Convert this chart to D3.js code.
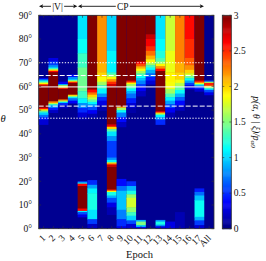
<!DOCTYPE html>
<html><head><meta charset="utf-8">
<script src="https://cdn.jsdelivr.net/npm/d3@7"></script>
<style>
body{margin:0;background:#fff;}
svg{display:block;}
text{font-family:"Liberation Serif","DejaVu Serif",serif;fill:#111;}
</style>
</head><body>
<svg id="c" width="266" height="261"></svg>
<script>
// ---------------- data ----------------
const epochs = ["1","2","3","4","5","6","7","8","9","10","11","12","13","14","15","16","17","All"];
const thetaTicks = [0,10,20,30,40,50,60,70,80,90];
const colorTicks = [0,0.5,1,1.5,2,2.5,3];
const colorTickLabels = ["0","0.5","1","1.5","2","2.5","3"];
const backgroundValue = 0.05;
const guideThetas = [70, 64.6, 59.8, 51.7, 46.6];
const guideKinds = ["dotted","dashed","solid","dashed","dotted"];
const groupLabels = ["|V|","CP"];
const groupFirst = ["1","5"];
const groupLast = ["4","17"];
// each profile: segments [thetaHigh, thetaLow, value] over the background value
const profiles = [
 [[63.5,63,0.4],[63,62.5,0.8],[62.5,62,1.1],[62,61.5,1.5],[61.5,61,1.9],[61,60.5,2.4],[60.5,60,2.8],[60,51,3],[51,50.5,2.6],[50.5,50,2.1],[50,49.5,1.7],[49.5,49,1.3],[49,48,1.0],[48,47,0.7],[47,46,0.45],[46,44,0.25]],
 [[72,70.5,0.3],[70.5,69,0.55],[69,68,0.8],[68,67.5,1.1],[67.5,67,1.6],[67,66.5,2.1],[66.5,66,2.6],[66,53.7,3],[53.7,53,2.2],[53,52.5,1.7],[52.5,52,1.2],[52,51,0.8],[51,50,0.45],[50,49,0.2]],
 [[62,61,0.35],[61,60.5,0.9],[60.5,59.5,1.7],[59.5,59,2.5],[59,54.5,3],[54.5,54,2.2],[54,53.5,1.6],[53.5,53,1.0],[53,52,0.5],[52,51,0.2]],
 [[65,64,0.4],[64,63,0.8],[63,62.5,1.1],[62.5,62,1.8],[62,61.5,2.5],[61.5,56.5,3],[56.5,56,2.0],[56,55.5,1.5],[55.5,55,1.1],[55,54,0.7],[54,53,0.35]],
 [[90,80,1.05],[80,74,1.15],[74,68,1.3],[68,58,1.45],[58,55,1.3],[55,53,1.1],[53,51,0.8],[51,49,0.5],[49,47,0.25],[47,46,0.12],
  [20,19.5,0.6],[19.5,19,1.1],[19,18,2.6],[18,8.5,3],[8.5,7.5,2.6],[7.5,7,1.1],[7,6,0.6],[6,5,0.3]],
 [[90,59,3],[59,58.5,2.8],[58.5,57.5,2.6],[57.5,56.5,2.3],[56.5,55.5,2.0],[55.5,54.5,1.7],[54.5,53.5,1.4],[53.5,52.5,1.1],[52.5,51.5,0.85],[51.5,50,0.6],[50,48.5,0.35],[48.5,47,0.15],
  [20.5,18.5,0.5],[18.5,17,0.85],[17,15,1.1],[15,8,1.2],[8,4,1.05],[4,2,0.55],[2,0,0.2]],
 [[90,70,2.2],[70,66,2.1],[66,64,2.0],[64,62,1.85],[62,60.5,1.6],[60.5,59,1.3],[59,57,1.1],[57,55.5,0.8],[55.5,54,0.5],[54,52,0.3],[52,50,0.15]],
 [[90,75,1.0],[75,66,1.1],[66,65,1.3],[65,64,1.6],[64,63,1.9],[63,62,2.2],[62,61,2.5],[61,60,2.75],[60,44,3],[44,43,2.7],[43,42,2.0],[42,41,1.4],[41,39,1.05],[39,37,0.8],[37,30,0.55],[30,29,0.8],[29,28,1.1],[28,27.5,1.8],[27.5,27,2.4],[27,26,2.8],[26,16.5,3],[16.5,16,2.5],[16,15.5,1.9],[15.5,14,1.2],[14,13,0.9],[13,11,0.6],[11,9,0.3],[9,6,0.15]],
 [[90,51.5,3],[51.5,51,2.2],[51,50,1.6],[50,49,1.15],[49,47,0.75],[47,45,0.4],[45,43,0.2],
  [21,18,0.4],[18,16,0.7],[16,8,0.95],[8,4,0.75],[4,1,0.5],[1,0,0.3]],
 [[90,62.5,3],[62.5,62,2.7],[62,61.5,2.3],[61.5,61,1.9],[61,60,1.6],[60,59,1.3],[59,58,1.1],[58,57,0.9],[57,55,0.7],[55,53,0.45],[53,51,0.25],[51,49,0.12],
  [20,18,0.5],[18,16,0.9],[16,14.5,1.2],[14.5,13,1.55],[13,9,1.75],[9,7,1.55],[7,5.5,1.3],[5.5,3.5,1.0],[3.5,2,0.6],[2,0,0.25]],
 [[90,70.5,3],[70.5,69.5,2.65],[69.5,68.5,2.4],[68.5,67.5,2.1],[67.5,66.5,1.85],[66.5,65.5,1.6],[65.5,64.5,1.35],[64.5,63.5,1.15],[63.5,62.5,0.95],[62.5,61,0.75],[61,60,0.55],[60,58,0.35],[58,56,0.2],
  [3.7,3,0.9],[3,1.5,1.5],[1.5,0.8,1.0],[0.8,0,0.4]],
 [[90,82,3],[82,80,2.8],[80,77,2.65],[77,75,2.5],[75,73,2.3],[73,71.5,2.1],[71.5,70,1.9],[70,69,1.6],[69,68,1.35],[68,67,1.15],[67,65.5,0.9],[65.5,64,0.7],[64,62.5,0.45],[62.5,61,0.25]],
 [[90,80,1.05],[80,75,1.12],[75,72,1.22],[72,70.5,1.35],[70.5,69.5,1.6],[69.5,68.5,1.9],[68.5,67.5,2.2],[67.5,66.5,2.6],[66.5,49.5,3],[49.5,49,2.6],[49,48.5,2.0],[48.5,48,1.5],[48,47,1.1],[47,46,0.8],[46,44,0.5],
  [3.7,3,0.8],[3,1.7,1.2],[1.7,1,0.8],[1,0,0.3]],
 [[90,75,1.72],[75,66,1.82],[66,62,1.9],[62,59,1.85],[59,57,1.6],[57,55.5,1.35],[55.5,54,1.1],[54,52.5,0.85],[52.5,51,0.6],[51,49,0.35],[49,47,0.15],
  [3,0,0.3]],
 [[90,70,2.25],[70,66,2.1],[66,63,2.0],[63,61.5,1.85],[61.5,60,1.65],[60,58.5,1.4],[58.5,57,1.15],[57,55.5,0.9],[55.5,54,0.65],[54,52,0.4],[52,50,0.2],
  [7,0,0.15]],
 [[90,80,2.6],[80,72,2.5],[72,69,2.35],[69,67,2.2],[67,65.5,2.0],[65.5,64.5,1.75],[64.5,63.5,1.45],[63.5,62.5,1.15],[62.5,61.5,0.85],[61.5,60.5,0.55],[60.5,59,0.3]],
 [[90,62.5,3],[62.5,62,2.7],[62,61.5,2.3],[61.5,61,1.8],[61,60.5,1.3],[60.5,60,0.9],[60,59,0.5],[59,58,0.25],
  [17,15.5,0.45],[15.5,14,0.7],[14,12,0.95],[12,5,1.15],[5,3.5,0.9],[3.5,1.5,0.55],[1.5,0,0.25]],
 [[62.5,62,0.6],[62,61.5,1.6],[61.5,60.5,2.55],[60.5,60,2.3],[60,59.5,1.8],[59.5,59,1.3],[59,58.5,1.0],[58.5,57.5,0.6],[57.5,56.5,0.3]]
];

// ---------------- layout ----------------
const L = 38.7, R = 214, T = 15.3, B = 228.7;
const CBL = 222.3, CBR = 231.3;
const svg = d3.select("#c");

const clamp = x => Math.max(0, Math.min(1, x));
const jet = t => d3.rgb(255*clamp(1.5-Math.abs(4*t-3)), 255*clamp(1.5-Math.abs(4*t-2)), 255*clamp(1.5-Math.abs(4*t-1))).toString();
const color = d3.scaleSequential(jet).domain([0,3]).clamp(true);

const x = d3.scaleBand().domain(epochs).range([L, R]).paddingInner(0).paddingOuter(0);
const y = d3.scaleLinear().domain([0, 90]).range([B, T]);

// heatmap columns (each column overlaps the next by 1px; later columns cover it)
const cols = svg.append("g").selectAll("g").data(epochs).join("g");
cols.each(function(d, i) {
  const g = d3.select(this);
  const w = x.bandwidth() + (i < epochs.length - 1 ? 1 : 0);
  g.append("rect")
    .attr("x", x(d)).attr("width", w)
    .attr("y", y(90)).attr("height", y(0) - y(90))
    .attr("fill", color(backgroundValue));
  g.selectAll("rect.seg").data(profiles[i]).join("rect")
    .attr("class", "seg")
    .attr("x", x(d)).attr("width", w)
    .attr("y", s => y(s[0]))
    .attr("height", s => Math.min(y(s[1]) - y(s[0]) + 0.5, B - y(s[0])))
    .attr("fill", s => color(s[2]));
});

// guide lines
const dash = {dotted: "1.3,1.6", dashed: "5,2", solid: null};
svg.append("g").selectAll("line").data(guideThetas).join("line")
  .attr("x1", L).attr("x2", R)
  .attr("y1", d => y(d)).attr("y2", d => y(d))
  .attr("stroke", "#fff").attr("stroke-width", 1)
  .attr("stroke-dasharray", (d, i) => dash[guideKinds[i]]);

// frame and ticks
svg.append("rect").attr("x", L).attr("y", T).attr("width", R - L).attr("height", B - T)
  .attr("fill", "none").attr("stroke", "#333").attr("stroke-width", 0.8);
const tk = svg.append("g").attr("stroke", "#333").attr("stroke-width", 0.6);
epochs.forEach(e => {
  const cx = x(e) + x.bandwidth() / 2;
  tk.append("line").attr("x1", cx).attr("x2", cx).attr("y1", B).attr("y2", B - 2.5);
  tk.append("line").attr("x1", cx).attr("x2", cx).attr("y1", T).attr("y2", T + 2.5);
});
thetaTicks.forEach(t => {
  tk.append("line").attr("x1", L).attr("x2", L + 2.5).attr("y1", y(t)).attr("y2", y(t));
  tk.append("line").attr("x1", R).attr("x2", R - 2.5).attr("y1", y(t)).attr("y2", y(t));
});

// y tick labels
svg.append("g").selectAll("text").data(thetaTicks).join("text")
  .attr("x", 32).attr("y", d => y(d)).attr("dy", "0.35em")
  .attr("text-anchor", "end").attr("font-size", 9.5)
  .text(d => d + "°");

// x tick labels
svg.append("g").selectAll("text").data(epochs).join("text")
  .attr("transform", d => `translate(${x(d) + x.bandwidth()/2 + 2.5},${B + 10}) rotate(-45)`)
  .attr("text-anchor", "end").attr("font-size", 9.5)
  .text(d => d);

// axis titles
svg.append("text").attr("x", 139.5).attr("y", 257.5).attr("text-anchor", "middle")
  .attr("font-size", 10.5).text("Epoch");
svg.append("text").attr("x", 3).attr("y", 122).attr("text-anchor", "middle")
  .attr("font-size", 10.5).attr("font-style", "italic").text("θ");

// colorbar
const cy = d3.scaleLinear().domain([0, 3]).range([B, T]);
const steps = d3.range(0, 3, 3 / 200);
svg.append("g").selectAll("rect").data(steps).join("rect")
  .attr("x", CBL).attr("width", CBR - CBL)
  .attr("y", d => cy(d + 3/200)).attr("height", (B - T) / 200 + 0.5)
  .attr("fill", d => color(d + 1.5/200));
svg.append("rect").attr("x", CBL).attr("y", T).attr("width", CBR - CBL).attr("height", B - T)
  .attr("fill", "none").attr("stroke", "#333").attr("stroke-width", 0.8);
const ctk = svg.append("g").attr("stroke", "#333").attr("stroke-width", 0.6);
colorTicks.forEach(v => {
  ctk.append("line").attr("x1", CBR).attr("x2", CBR - 2).attr("y1", cy(v)).attr("y2", cy(v));
  ctk.append("line").attr("x1", CBL).attr("x2", CBL + 2).attr("y1", cy(v)).attr("y2", cy(v));
});
svg.append("g").selectAll("text").data(colorTicks).join("text")
  .attr("x", CBR + 2.5).attr("y", d => cy(d)).attr("dy", "0.35em")
  .attr("font-size", 9.5)
  .text((d, i) => colorTickLabels[i]);
const cl = svg.append("text")
  .attr("transform", `translate(252.5,${(T + B) / 2}) rotate(90)`)
  .attr("text-anchor", "middle").attr("font-size", 9.5).attr("font-style", "italic");
cl.append("tspan").text("p(α, θ | ξ)/p");
cl.append("tspan").attr("font-size", 7).attr("dy", 2).text("α0");

// group arrows on top
const ay = 6.3;
const grp = svg.append("g");
groupLabels.forEach((lab, i) => {
  const x0 = x(groupFirst[i]) + 0.3, x1 = x(groupLast[i]) + x.bandwidth() - 0.3;
  grp.append("line").attr("x1", x0 + 3).attr("x2", x1 - 3).attr("y1", ay).attr("y2", ay)
    .attr("stroke", "#111").attr("stroke-width", 0.9);
  grp.append("path").attr("d", `M${x0},${ay} L${x0 + 4.2},${ay - 2} L${x0 + 3.2},${ay} L${x0 + 4.2},${ay + 2} Z`).attr("fill", "#111");
  grp.append("path").attr("d", `M${x1},${ay} L${x1 - 4.2},${ay - 2} L${x1 - 3.2},${ay} L${x1 - 4.2},${ay + 2} Z`).attr("fill", "#111");
});
const labelX = [57.5, 122.8];
groupLabels.forEach((lab, i) => {
  const t = grp.append("text").attr("x", labelX[i]).attr("y", 9.6).attr("text-anchor", "middle")
    .attr("font-size", 9.5).text(lab);
  const bb = t.node().getBBox();
  grp.insert("rect", "text").attr("x", bb.x - 1.2).attr("y", ay - 1.5).attr("width", bb.width + 2.4).attr("height", 3).attr("fill", "#fff");
});
</script>
</body></html>
